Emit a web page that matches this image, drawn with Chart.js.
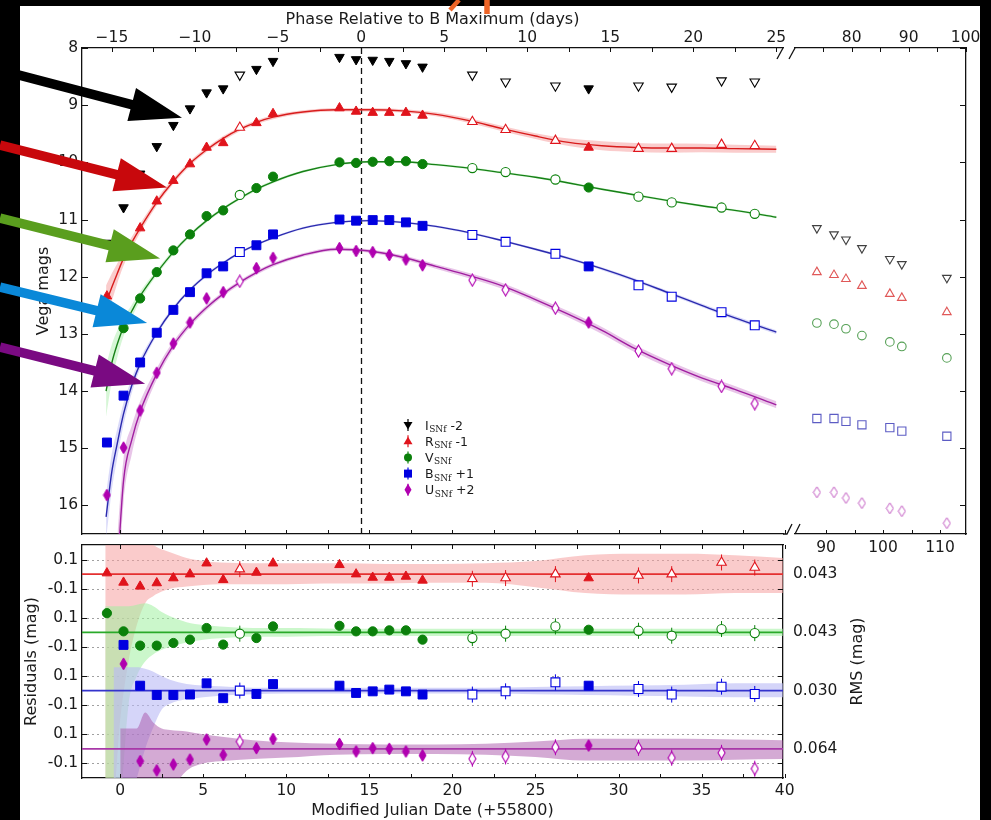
<!DOCTYPE html>
<html><head><meta charset="utf-8">
<script src="https://cdn.jsdelivr.net/npm/chart.js@4.4.1/dist/chart.umd.min.js"></script>
<style>
html,body{margin:0;padding:0;background:#000;width:991px;height:820px;overflow:hidden;}
#paper{position:absolute;left:20px;top:6px;width:960px;height:814px;background:#fff;}
canvas{position:absolute;left:0;top:0;}
</style></head><body>
<div id="paper"></div>
<canvas id="cRes" width="991" height="820"></canvas>
<canvas id="cLate" width="991" height="820"></canvas>
<canvas id="cMain" width="991" height="820"></canvas>
<script>
// ================= DATA =================
const mjdOfBMax = 14.5;                 // B maximum, MJD (+55800)
const mjdMin = -2.3, mjdMax = 39.9;     // main / residual panels
const lateMin = 84.56, lateMax = 114.56; // broken-axis panel

const obsMjd  = [-0.8, 0.2, 1.2, 2.2, 3.2, 4.2, 5.2, 6.2, 7.2, 8.2, 9.2, 13.2, 14.2, 15.2, 16.2, 17.2, 18.2, 21.2, 23.2, 26.2, 28.2, 31.2, 33.2, 36.2, 38.2];
const obsOpen = [0,0,0,0,0,0,0,0,1,0,0,0,0,0,0,0,0,1,1,1,0,1,1,1,1];
const magI = [11.41, 10.79, 10.20, 9.72, 9.35, 9.06, 8.78, 8.71, 8.47, 8.37, 8.23, 8.16, 8.20, 8.21, 8.23, 8.27, 8.33, 8.47, 8.59, 8.66, 8.71, 8.66, 8.68, 8.57, 8.59];
const magR = [12.34, 11.65, 11.15, 10.68, 10.32, 10.03, 9.74, 9.66, 9.39, 9.31, 9.15, 9.05, 9.11, 9.13, 9.13, 9.13, 9.18, 9.29, 9.43, 9.62, 9.74, 9.76, 9.76, 9.69, 9.71];
const magV = [13.62, 12.90, 12.38, 11.92, 11.54, 11.26, 10.94, 10.84, 10.57, 10.45, 10.25, 10.00, 10.01, 9.99, 9.98, 9.98, 10.03, 10.10, 10.17, 10.30, 10.44, 10.60, 10.70, 10.79, 10.90];
const magB = [14.90, 14.08, 13.50, 12.98, 12.58, 12.27, 11.94, 11.82, 11.57, 11.45, 11.26, 11.00, 11.02, 11.01, 11.01, 11.05, 11.11, 11.27, 11.39, 11.60, 11.82, 12.15, 12.35, 12.62, 12.85];
const magU = [15.82, 14.99, 14.34, 13.68, 13.17, 12.80, 12.38, 12.27, 12.08, 11.85, 11.67, 11.50, 11.55, 11.57, 11.62, 11.70, 11.80, 12.06, 12.23, 12.55, 12.80, 13.30, 13.61, 13.92, 14.22];

const lateMjd  = [88.4, 91.4, 93.5, 96.3, 101.2, 103.3, 111.2];
const lateOpen = [1,1,1,1,1,1,1];
const lateI = [11.15, 11.26, 11.35, 11.50, 11.69, 11.78, 12.02];
const lateR = [11.92, 11.97, 12.04, 12.16, 12.30, 12.37, 12.62];
const lateV = [12.81, 12.83, 12.91, 13.03, 13.14, 13.22, 13.42];
const lateB = [14.48, 14.48, 14.53, 14.59, 14.64, 14.70, 14.79];
const lateU = [15.77, 15.77, 15.87, 15.96, 16.05, 16.10, 16.31];

const fitMjd = [-0.85, -0.5, -0.2, 0.2, 0.7, 1.2, 2.2, 3.2, 4.2, 5.2, 6.2, 7.2, 8.2, 9.2, 11, 13, 15, 17, 19, 21, 23, 25, 27, 29, 31, 33, 35, 37, 39.5];
const fitR = [12.45, 12.18, 11.96, 11.68, 11.40, 11.15, 10.70, 10.33, 10.02, 9.78, 9.58, 9.42, 9.30, 9.21, 9.12, 9.08, 9.08, 9.10, 9.16, 9.27, 9.41, 9.54, 9.65, 9.71, 9.74, 9.75, 9.75, 9.76, 9.77];
const bandR = [0.30, 0.24, 0.18, 0.13, 0.10, 0.08, 0.06, 0.05, 0.045, 0.04, 0.04, 0.035, 0.035, 0.035, 0.03, 0.03, 0.03, 0.03, 0.035, 0.04, 0.045, 0.05, 0.065, 0.08, 0.08, 0.08, 0.075, 0.07, 0.06];
const fitV = [14.00, 13.50, 13.20, 12.88, 12.60, 12.34, 11.93, 11.57, 11.27, 11.02, 10.81, 10.63, 10.47, 10.34, 10.16, 10.04, 9.99, 9.99, 10.04, 10.10, 10.18, 10.26, 10.36, 10.47, 10.57, 10.67, 10.76, 10.84, 10.96];
const bandV = [0.45, 0.32, 0.24, 0.16, 0.11, 0.08, 0.05, 0.04, 0.035, 0.03, 0.03, 0.025, 0.025, 0.025, 0.02, 0.02, 0.02, 0.02, 0.02, 0.02, 0.02, 0.02, 0.02, 0.02, 0.02, 0.02, 0.02, 0.02, 0.02];
const fitB = [16.20, 15.40, 14.95, 14.40, 13.90, 13.52, 12.98, 12.56, 12.23, 11.97, 11.76, 11.58, 11.44, 11.32, 11.15, 11.05, 11.02, 11.05, 11.12, 11.23, 11.37, 11.52, 11.68, 11.86, 12.06, 12.28, 12.50, 12.72, 12.97];
const bandB = [0.40, 0.32, 0.26, 0.19, 0.13, 0.09, 0.05, 0.04, 0.03, 0.03, 0.025, 0.025, 0.02, 0.02, 0.02, 0.02, 0.02, 0.02, 0.02, 0.02, 0.02, 0.02, 0.025, 0.025, 0.03, 0.03, 0.03, 0.035, 0.035];
const fitU = [null, null, 17.30, 15.57, 14.85, 14.36, 13.70, 13.20, 12.83, 12.54, 12.30, 12.10, 11.93, 11.79, 11.62, 11.52, 11.55, 11.66, 11.82, 11.98, 12.16, 12.40, 12.66, 12.94, 13.26, 13.53, 13.77, 13.97, 14.24];
const bandU = [null, null, 0.60, 0.38, 0.25, 0.18, 0.10, 0.07, 0.05, 0.045, 0.04, 0.04, 0.035, 0.035, 0.03, 0.03, 0.03, 0.035, 0.04, 0.045, 0.05, 0.05, 0.055, 0.06, 0.06, 0.06, 0.06, 0.06, 0.06];

// residuals (mag), per observation
const resR = [0.007, -0.057, -0.084, -0.061, -0.027, 0.0, 0.075, -0.039, 0.034, 0.011, 0.075, 0.064, 0.0, -0.023, -0.023, -0.016, -0.043, -0.032, -0.027, 0.0, -0.027, -0.009, 0.0, 0.08, 0.045];
const resV = [0.132, 0.007, -0.091, -0.091, -0.073, -0.05, 0.03, -0.084, -0.009, -0.039, 0.041, 0.045, 0.007, 0.007, 0.014, 0.014, -0.05, -0.039, -0.009, 0.041, 0.018, 0.011, -0.023, 0.023, -0.005];
const resB = [null, 0.314, 0.034, -0.03, -0.03, -0.027, 0.05, -0.052, 0.0, -0.023, 0.045, 0.034, -0.016, -0.005, 0.007, -0.005, -0.027, -0.027, -0.005, 0.057, 0.034, 0.011, -0.027, 0.027, -0.023];
const resU = [null, 0.584, -0.084, -0.148, -0.107, -0.073, 0.064, -0.041, 0.05, 0.005, 0.068, 0.034, -0.018, 0.005, 0.0, -0.018, -0.045, -0.068, -0.052, 0.011, 0.023, 0.007, -0.061, -0.027, -0.136];
const resErr = 0.055;

const resBandMjd = [-0.9, -0.4, 0, 0.5, 1, 1.5, 2, 2.5, 3, 4, 5, 6, 8, 10, 13, 16, 19, 22, 25, 28, 31, 34, 37, 39.9];
const resUpR = [0.30, 0.30, 0.30, 0.30, 0.30, 0.25, 0.20, 0.17, 0.15, 0.11, 0.09, 0.08, 0.075, 0.075, 0.075, 0.07, 0.07, 0.075, 0.09, 0.13, 0.14, 0.14, 0.13, 0.11];
const resLoR = [-1.50, -1.50, -1.00, -0.60, -0.35, -0.20, -0.15, -0.12, -0.10, -0.085, -0.075, -0.07, -0.07, -0.07, -0.065, -0.065, -0.06, -0.06, -0.09, -0.13, -0.14, -0.14, -0.13, -0.13];
const resUpV = [0.18, 0.18, 0.18, 0.18, 0.19, 0.20, 0.18, 0.14, 0.11, 0.07, 0.05, 0.04, 0.03, 0.03, 0.025, 0.025, 0.025, 0.025, 0.025, 0.025, 0.025, 0.025, 0.025, 0.025];
const resLoV = [-1.50, -1.50, -1.20, -0.50, -0.30, -0.20, -0.15, -0.12, -0.10, -0.07, -0.05, -0.04, -0.03, -0.03, -0.025, -0.025, -0.025, -0.025, -0.025, -0.025, -0.025, -0.025, -0.025, -0.025];
const resUpB = [null, 0.16, 0.16, 0.16, 0.16, 0.15, 0.13, 0.10, 0.075, 0.045, 0.035, 0.03, 0.02, 0.02, 0.02, 0.02, 0.02, 0.02, 0.025, 0.03, 0.035, 0.04, 0.05, 0.05];
const resLoB = [null, -1.00, -1.00, -0.80, -0.60, -0.40, -0.25, -0.13, -0.09, -0.06, -0.045, -0.035, -0.025, -0.02, -0.02, -0.02, -0.02, -0.02, -0.025, -0.03, -0.035, -0.04, -0.045, -0.045];
const resUpU = [null, null, 0.14, 0.14, 0.14, 0.25, 0.18, 0.14, 0.13, 0.12, 0.10, 0.085, 0.06, 0.045, 0.035, 0.03, 0.03, 0.035, 0.05, 0.07, 0.07, 0.07, 0.065, 0.06];
const resLoU = [null, null, -0.50, -0.50, -0.50, -0.50, -0.50, -0.40, -0.30, -0.15, -0.10, -0.085, -0.07, -0.06, -0.04, -0.035, -0.035, -0.04, -0.055, -0.08, -0.08, -0.08, -0.075, -0.07];

const resOffsets = [0.6, 0.2, -0.2, -0.6];       // R, V, B, U rows
const rmsLabels  = ['0.043', '0.043', '0.030', '0.064'];
const resTickValues = [0.7, 0.5, 0.3, 0.1, -0.1, -0.3, -0.5, -0.7];
const resTickLabels = ['0.1', '-0.1', '0.1', '-0.1', '0.1', '-0.1', '0.1', '-0.1'];

const magTicks   = [8, 9, 10, 11, 12, 13, 14, 15, 16];
const phaseTicks = [-15, -10, -5, 0, 5, 10, 15, 20, 25];
const phaseMinor = [-15, -12.5, -10, -7.5, -5, -2.5, 0, 2.5, 5, 7.5, 10, 12.5, 15, 17.5, 20, 22.5, 25];
const mjdTicks   = [0, 5, 10, 15, 20, 25, 30, 35, 40];
const mjdMinor   = [0, 2.5, 5, 7.5, 10, 12.5, 15, 17.5, 20, 22.5, 25, 27.5, 30, 32.5, 35, 37.5, 40];
const latePhaseTicks = [80, 90, 100];
const latePhaseMinor = [75, 80, 85, 90, 95, 100];
const lateMjdTicks   = [90, 100, 110];
const lateMjdMinor   = [90, 95, 100, 105, 110];

const legendMain = ['I', 'R', 'V', 'B', 'U'];
const legendSub  = 'SNf';
const legendTail = [' -2', ' -1', '', ' +1', ' +2'];

const arrowTipMjd = [3.72, 2.82, 2.40, 1.62, 1.50];
const arrowTipMag = [9.22, 10.44, 11.68, 12.81, 13.87];
const arrowTailY  = [70, 145, 218, 287, 347];

// ================= STYLE =================
const FONT = '"DejaVu Sans", sans-serif';
Chart.defaults.font.family = FONT;
Chart.defaults.color = '#1a1a1a';
const AX = '#111';
const TICKF = {size: 15.5}, TITLEF = {size: 16};
const colI='#000000', colR='#e0141c', colV='#0b800b', colB='#0000e0', colU='#b000b0';
const lineR='#d81c1c', lineV='#178017', lineB='#2a2aae', lineU='#a01ea0';
const bandColR='rgba(240,110,110,0.35)', bandColV='rgba(120,225,120,0.30)', bandColB='rgba(135,135,235,0.30)', bandColU='rgba(185,80,185,0.33)';
const lateColI='#404040', lateColR='#e05858', lateColV='#55a055', lateColB='#5c5cc4', lateColU='#c058c0';
const resLineR='#e43030', resLineV='#2aaa2a', resLineB='#3434cc', resLineU='#a838a8';
const resBandR='rgba(246,160,160,0.55)', resBandV='rgba(160,240,160,0.55)', resBandB='rgba(185,185,245,0.6)', resBandU='rgba(170,85,170,0.5)';
const arrowCols = ['#000000', '#c8080c', '#5a9e1e', '#0a88d8', '#7a0a82'];

function thinDiamond(w, h, fill, stroke, lw) {
  const c = document.createElement('canvas'); c.width = w + 2; c.height = h + 2;
  const g = c.getContext('2d');
  g.beginPath(); g.moveTo(c.width/2, 1); g.lineTo(c.width-1, c.height/2); g.lineTo(c.width/2, c.height-1); g.lineTo(1, c.height/2); g.closePath();
  g.fillStyle = fill; g.fill(); g.lineWidth = lw; g.strokeStyle = stroke; g.stroke();
  return c;
}
const dU = thinDiamond(7, 12, colU, colU, 1), dUo = thinDiamond(7, 12, '#fff', colU, 1.1);
const dUlate = thinDiamond(7, 11, '#fff', lateColU, 1);

const xy = (xs, ys, off) => xs.map((x, i) => ({x, y: ys[i] == null ? null : ys[i] + (off || 0)}));

function pts(xs, ys, open, color, style, r, rot, off) {
  return {
    data: xy(xs, ys, off), showLine: false, order: 0, xAxisID: 'x', yAxisID: 'y',
    pointStyle: style, pointRadius: r, pointRotation: rot || 0,
    pointBackgroundColor: open.map(o => o ? '#fff' : color),
    pointBorderColor: color, pointBorderWidth: open.map(o => o ? 1.1 : 1),
    isPoints: true, openFlags: open, errColor: color
  };
}
function fitLine(xs, ys, color) {
  return {data: xy(xs, ys), borderColor: color, borderWidth: 1.4, pointRadius: 0, fill: false,
    cubicInterpolationMode: 'monotone', order: 1, xAxisID: 'x', yAxisID: 'y'};
}
function bandPair(xs, lo, hi, color, order, last) {
  return [
    {data: xs.map((x, i) => ({x, y: lo[i]})), borderWidth: 0, borderColor: 'rgba(0,0,0,0)', pointRadius: 0, fill: false, cubicInterpolationMode: 'monotone', order, xAxisID: 'x', yAxisID: 'y'},
    {data: xs.map((x, i) => ({x, y: hi[i]})), borderWidth: 0, borderColor: 'rgba(0,0,0,0)', pointRadius: 0, fill: '-1', backgroundColor: color, cubicInterpolationMode: 'monotone', order, xAxisID: 'x', yAxisID: 'y', lastBand: !!last}
  ];
}
const sub = (a, b) => a.map((v, i) => v == null ? null : v - b[i]);
const add = (a, b) => a.map((v, i) => v == null ? null : v + b[i]);
const shift = (a, o) => a.map(v => v == null ? null : v + o);
const minusFmt = v => (v < 0 ? '\u2212' + Math.abs(v) : String(v));

// ---------- plugins ----------
const inTicks = {
  id: 'inTicks',
  afterDraw(chart, args, opts) {
    const {ctx, chartArea: a} = chart;
    ctx.save(); ctx.strokeStyle = AX; ctx.lineWidth = 1;
    (opts.items || []).forEach(it => {
      const s = chart.scales[it.scale];
      it.values.forEach(v => {
        const p = Math.round(s.getPixelForValue(v)) + 0.5;
        ctx.beginPath();
        if (it.side === 'left') { ctx.moveTo(a.left, p); ctx.lineTo(a.left + it.len, p); }
        else if (it.side === 'right') { ctx.moveTo(a.right, p); ctx.lineTo(a.right - it.len, p); }
        else if (it.side === 'top') { ctx.moveTo(p, a.top); ctx.lineTo(p, a.top + it.len); }
        else { ctx.moveTo(p, a.bottom); ctx.lineTo(p, a.bottom - it.len); }
        ctx.stroke();
      });
    });
    ctx.restore();
  }
};

function legendMarker(ctx, i, x, y) {
  const cols = [colI, colR, colV, colB, colU];
  ctx.save();
  ctx.strokeStyle = cols[i]; ctx.fillStyle = cols[i]; ctx.lineWidth = 1.2;
  ctx.beginPath(); ctx.moveTo(x, y - 6); ctx.lineTo(x, y + 6); ctx.stroke();
  ctx.beginPath();
  if (i === 0) { ctx.moveTo(x - 4.5, y - 3); ctx.lineTo(x + 4.5, y - 3); ctx.lineTo(x, y + 4.5); }
  else if (i === 1) { ctx.moveTo(x - 4.5, y + 3); ctx.lineTo(x + 4.5, y + 3); ctx.lineTo(x, y - 4.5); }
  else if (i === 2) { ctx.arc(x, y, 4, 0, Math.PI * 2); }
  else if (i === 3) { ctx.rect(x - 4, y - 4, 8, 8); }
  else { ctx.moveTo(x, y - 6); ctx.lineTo(x + 3.5, y); ctx.lineTo(x, y + 6); ctx.lineTo(x - 3.5, y); }
  ctx.closePath(); ctx.fill();
  ctx.restore();
}
function drawArrow(ctx, x0, y0, x1, y1, color) {
  const shaftW = 9.5, headL = 52, headW = 34;
  const dx = x1 - x0, dy = y1 - y0, L = Math.hypot(dx, dy), ux = dx / L, uy = dy / L, nx = -uy, ny = ux;
  const bx = x1 - ux * headL, by = y1 - uy * headL;
  ctx.beginPath();
  ctx.moveTo(x0 + nx * shaftW / 2, y0 + ny * shaftW / 2);
  ctx.lineTo(bx + nx * shaftW / 2, by + ny * shaftW / 2);
  ctx.lineTo(bx + nx * headW / 2, by + ny * headW / 2);
  ctx.lineTo(x1, y1);
  ctx.lineTo(bx - nx * headW / 2, by - ny * headW / 2);
  ctx.lineTo(bx - nx * shaftW / 2, by - ny * shaftW / 2);
  ctx.lineTo(x0 - nx * shaftW / 2, y0 - ny * shaftW / 2);
  ctx.closePath(); ctx.fillStyle = color; ctx.fill();
}

const mainDecor = {
  id: 'mainDecor',
  beforeDatasetsDraw(chart) {
    const {ctx, chartArea: a, scales} = chart;
    const px = Math.round(scales.xp.getPixelForValue(0)) + 0.5;
    ctx.save(); ctx.strokeStyle = AX; ctx.lineWidth = 1.3; ctx.setLineDash([6, 4]);
    ctx.beginPath(); ctx.moveTo(px, a.top); ctx.lineTo(px, a.bottom); ctx.stroke(); ctx.restore();
  },
  afterDraw(chart) {
    const {ctx, chartArea: a, scales} = chart;
    ctx.save();
    // break marks
    ctx.strokeStyle = AX; ctx.lineWidth = 1.3;
    ctx.beginPath(); ctx.moveTo(a.right - 6, a.top + 11); ctx.lineTo(a.right, a.top); ctx.stroke();
    ctx.beginPath(); ctx.moveTo(a.right, a.bottom); ctx.lineTo(a.right + 4, a.bottom); ctx.lineTo(a.right + 9, a.bottom - 10); ctx.stroke();
    // legend
    const lx = 408, tx = 425, y0 = 425, dy = 16.2;
    legendMain.forEach((m, i) => {
      const y = y0 + dy * i;
      legendMarker(ctx, i, lx, y);
      ctx.fillStyle = '#1a1a1a'; ctx.textBaseline = 'alphabetic'; ctx.textAlign = 'left';
      ctx.font = '12.5px ' + FONT; ctx.fillText(m, tx, y + 4.5);
      let x = tx + ctx.measureText(m).width + 0.5;
      ctx.font = '9px "DejaVu Serif", serif'; ctx.fillText(legendSub, x, y + 7);
      x += ctx.measureText(legendSub).width;
      ctx.font = '12.5px ' + FONT; ctx.fillText(legendTail[i], x, y + 4.5);
    });
    // annotation arrows
    arrowTipMjd.forEach((m, i) => {
      drawArrow(ctx, 0, arrowTailY[i], scales.x.getPixelForValue(m), scales.y.getPixelForValue(arrowTipMag[i]), arrowCols[i]);
    });
    // orange marks at top
    ctx.strokeStyle = '#ee6426'; ctx.lineWidth = 4.5; ctx.lineCap = 'butt';
    ctx.beginPath(); ctx.moveTo(459, 0); ctx.lineTo(450, 10); ctx.stroke();
    ctx.lineWidth = 5.5; ctx.beginPath(); ctx.moveTo(487, 0); ctx.lineTo(487, 14); ctx.stroke();
    ctx.restore();
  }
};

const lateDecor = {
  id: 'lateDecor',
  afterDraw(chart) {
    const {ctx, chartArea: a} = chart;
    ctx.save(); ctx.strokeStyle = AX; ctx.lineWidth = 1.3;
    ctx.beginPath(); ctx.moveTo(a.left - 6, a.top + 11); ctx.lineTo(a.left, a.top); ctx.stroke();
    ctx.beginPath(); ctx.moveTo(a.left, a.bottom); ctx.lineTo(a.left + 5, a.bottom - 10); ctx.stroke();
    ctx.restore();
  }
};

const resDecor = {
  id: 'resDecor',
  beforeDatasetsDraw(chart) {
    const {ctx, chartArea: a, scales: {y}} = chart;
    ctx.save(); ctx.setLineDash([2, 3]); ctx.strokeStyle = '#a0a0a0'; ctx.lineWidth = 1;
    resTickValues.forEach(v => { const p = Math.round(y.getPixelForValue(v)) + 0.5; ctx.beginPath(); ctx.moveTo(a.left, p); ctx.lineTo(a.right, p); ctx.stroke(); });
    ctx.restore();
  },
  afterDatasetDraw(chart, args) {
    const ds = chart.data.datasets[args.index];
    if (!ds.lastBand) return;
    const {ctx, chartArea: a, scales: {y}} = chart;
    ctx.save();
    const lc = [resLineR, resLineV, resLineB, resLineU];
    resOffsets.forEach((o, i) => { const p = y.getPixelForValue(o); ctx.strokeStyle = lc[i]; ctx.lineWidth = 1.6; ctx.beginPath(); ctx.moveTo(a.left, p); ctx.lineTo(a.right, p); ctx.stroke(); });
    // error bars of open points
    chart.data.datasets.forEach((d, di) => {
      if (!d.isPoints) return;
      const meta = chart.getDatasetMeta(di);
      meta.data.forEach((el, j) => {
        if (!d.openFlags[j] || d.data[j].y == null) return;
        const v = d.data[j].y;
        ctx.strokeStyle = d.errColor; ctx.lineWidth = 1;
        ctx.beginPath(); ctx.moveTo(el.x, y.getPixelForValue(v + resErr)); ctx.lineTo(el.x, y.getPixelForValue(v - resErr)); ctx.stroke();
      });
    });
    ctx.restore();
  },
  afterDraw(chart) {
    const {ctx, chartArea: a, scales: {y2}} = chart;
    ctx.save(); ctx.fillStyle = '#1a1a1a'; ctx.font = '16px ' + FONT; ctx.textAlign = 'center'; ctx.textBaseline = 'middle';
    ctx.translate(y2.left + 75, (a.top + a.bottom) / 2); ctx.rotate(-Math.PI / 2);
    ctx.fillText('RMS (mag)', 0, 0); ctx.restore();
  }
};

const baseOpts = {responsive: false, animation: false, events: [], plugins: {legend: {display: false}, tooltip: {enabled: false}}};
const border = {display: true, color: AX, width: 1.3};
const noGrid = {display: false, drawTicks: false, tickLength: 0};
const fixed = list => s => { s.ticks = list.map(v => ({value: v})); };

// ---------- MAIN PANEL ----------
const mainDatasets = [
  ...bandPair(fitMjd, sub(fitR, bandR), add(fitR, bandR), bandColR, 6),
  ...bandPair(fitMjd, sub(fitV, bandV), add(fitV, bandV), bandColV, 5),
  ...bandPair(fitMjd, sub(fitB, bandB), add(fitB, bandB), bandColB, 4),
  ...bandPair(fitMjd, sub(fitU, bandU), add(fitU, bandU), bandColU, 3),
  fitLine(fitMjd, fitR, lineR), fitLine(fitMjd, fitV, lineV), fitLine(fitMjd, fitB, lineB), fitLine(fitMjd, fitU, lineU),
  pts(obsMjd, magI, obsOpen, colI, 'triangle', 5.5, 180),
  pts(obsMjd, magR, obsOpen, colR, 'triangle', 5.5, 0),
  pts(obsMjd, magV, obsOpen, colV, 'circle', 4.6, 0),
  pts(obsMjd, magB, obsOpen, colB, 'rect', 6.3, 0),
  pts(obsMjd, magU, obsOpen, colU, obsOpen.map(o => o ? dUo : dU), 6, 0)
];
new Chart(document.getElementById('cMain'), {
  type: 'line',
  data: {datasets: mainDatasets},
  options: Object.assign({}, baseOpts, {
    layout: {padding: {left: 22, top: 6, right: 208, bottom: 286}},
    plugins: Object.assign({}, baseOpts.plugins, {inTicks: {items: [
      {scale: 'y', side: 'left', values: magTicks, len: 6},
      {scale: 'xp', side: 'top', values: phaseMinor, len: 4},
      {scale: 'x', side: 'bottom', values: mjdMinor, len: 4}
    ]}}),
    scales: {
      x: {type: 'linear', axis: 'x', position: 'bottom', min: mjdMin, max: mjdMax, ticks: {display: false}, grid: noGrid, border, afterFit: s => { s.height = 0; }},
      xp: {type: 'linear', axis: 'x', position: 'top', min: mjdMin - mjdOfBMax, max: mjdMax - mjdOfBMax,
        afterBuildTicks: fixed(phaseTicks),
        ticks: {font: TICKF, padding: 1, maxRotation: 0, autoSkip: false, callback: v => minusFmt(v)},
        grid: noGrid, border,
        title: {display: true, text: 'Phase Relative to B Maximum (days)', font: TITLEF, padding: {top: 4, bottom: 0}},
        afterFit: s => { s.height = 42; }},
      y: {type: 'linear', axis: 'y', position: 'left', reverse: true, min: 8, max: 16.5,
        afterBuildTicks: fixed(magTicks),
        ticks: {font: TICKF, padding: 4, autoSkip: false, callback: v => String(v)},
        grid: noGrid, border,
        title: {display: true, text: 'Vega mags', font: TITLEF, padding: {top: 12, bottom: 0}},
        afterFit: s => { s.width = 60; }}
    }
  }),
  plugins: [inTicks, mainDecor]
});

// ---------- LATE (broken axis) PANEL ----------
new Chart(document.getElementById('cLate'), {
  type: 'line',
  data: {datasets: [
    pts(lateMjd, lateI, lateOpen, lateColI, 'triangle', 5, 180),
    pts(lateMjd, lateR, lateOpen, lateColR, 'triangle', 5, 0),
    pts(lateMjd, lateV, lateOpen, lateColV, 'circle', 4.3, 0),
    pts(lateMjd, lateB, lateOpen, lateColB, 'rect', 5.8, 0),
    pts(lateMjd, lateU, lateOpen, lateColU, dUlate, 6, 0)
  ]},
  options: Object.assign({}, baseOpts, {
    layout: {padding: {left: 795, top: 6, right: 25, bottom: 256}},
    plugins: Object.assign({}, baseOpts.plugins, {inTicks: {items: [
      {scale: 'y', side: 'right', values: magTicks, len: 6},
      {scale: 'xp', side: 'top', values: latePhaseMinor, len: 4},
      {scale: 'x', side: 'bottom', values: lateMjdMinor, len: 4}
    ]}}),
    scales: {
      x: {type: 'linear', axis: 'x', position: 'bottom', min: lateMin, max: lateMax,
        afterBuildTicks: fixed(lateMjdTicks),
        ticks: {font: TICKF, padding: 5, maxRotation: 0, autoSkip: false, callback: v => String(v)},
        grid: noGrid, border, afterFit: s => { s.height = 30; }},
      xp: {type: 'linear', axis: 'x', position: 'top', min: lateMin - mjdOfBMax, max: lateMax - mjdOfBMax,
        afterBuildTicks: fixed(latePhaseTicks),
        ticks: {font: TICKF, padding: 1, maxRotation: 0, autoSkip: false, callback: v => String(v)},
        grid: noGrid, border, afterFit: s => { s.height = 42; }},
      y: {type: 'linear', axis: 'y', position: 'right', reverse: true, min: 8, max: 16.5,
        ticks: {display: false}, grid: noGrid, border, afterFit: s => { s.width = 0; }}
    }
  }),
  plugins: [inTicks, lateDecor]
});

// ---------- RESIDUAL PANEL ----------
const [oR, oV, oB, oU] = resOffsets;
const resDatasets = [
  ...bandPair(resBandMjd, shift(resLoR, oR), shift(resUpR, oR), resBandR, 6),
  ...bandPair(resBandMjd, shift(resLoV, oV), shift(resUpV, oV), resBandV, 5),
  ...bandPair(resBandMjd, shift(resLoB, oB), shift(resUpB, oB), resBandB, 4),
  ...bandPair(resBandMjd, shift(resLoU, oU), shift(resUpU, oU), resBandU, 3, true),
  pts(obsMjd, resR, obsOpen, colR, 'triangle', 5.5, 0, oR),
  pts(obsMjd, resV, obsOpen, colV, 'circle', 4.6, 0, oV),
  pts(obsMjd, resB, obsOpen, colB, 'rect', 6.3, 0, oB),
  pts(obsMjd, resU, obsOpen, colU, obsOpen.map(o => o ? dUo : dU), 6, 0, oU)
];
new Chart(document.getElementById('cRes'), {
  type: 'line',
  data: {datasets: resDatasets},
  options: Object.assign({}, baseOpts, {
    layout: {padding: {left: 22, top: 545, right: 123, bottom: 0}},
    plugins: Object.assign({}, baseOpts.plugins, {inTicks: {items: [
      {scale: 'y', side: 'left', values: resTickValues, len: 5},
      {scale: 'y', side: 'right', values: resTickValues, len: 5},
      {scale: 'x', side: 'bottom', values: mjdMinor, len: 4},
      {scale: 'x', side: 'top', values: mjdMinor, len: 4}
    ]}}),
    scales: {
      x: {type: 'linear', axis: 'x', position: 'bottom', min: mjdMin, max: mjdMax,
        afterBuildTicks: fixed(mjdTicks),
        ticks: {font: TICKF, padding: 4, maxRotation: 0, autoSkip: false, callback: v => String(v)},
        grid: noGrid, border,
        title: {display: true, text: 'Modified Julian Date (+55800)', font: TITLEF, padding: {top: 0, bottom: 0}},
        afterFit: s => { s.height = 42; }},
      xt: {type: 'linear', axis: 'x', position: 'top', min: mjdMin, max: mjdMax, ticks: {display: false}, grid: noGrid, border, afterFit: s => { s.height = 0; }},
      y: {type: 'linear', axis: 'y', position: 'left', min: -0.8, max: 0.8,
        afterBuildTicks: fixed(resTickValues),
        ticks: {font: TICKF, padding: 4, autoSkip: false, callback: (v, i) => resTickLabels[i]},
        grid: noGrid, border,
        title: {display: true, text: 'Residuals (mag)', font: TITLEF, padding: {top: 0, bottom: 0}},
        afterFit: s => { s.width = 60; }},
      y2: {type: 'linear', axis: 'y', position: 'right', min: -0.8, max: 0.8,
        afterBuildTicks: fixed(resOffsets),
        ticks: {font: TICKF, padding: 10, autoSkip: false, callback: (v, i) => rmsLabels[i]},
        grid: noGrid, border, afterFit: s => { s.width = 85; }}
    }
  }),
  plugins: [inTicks, resDecor]
});
</script></body></html>
